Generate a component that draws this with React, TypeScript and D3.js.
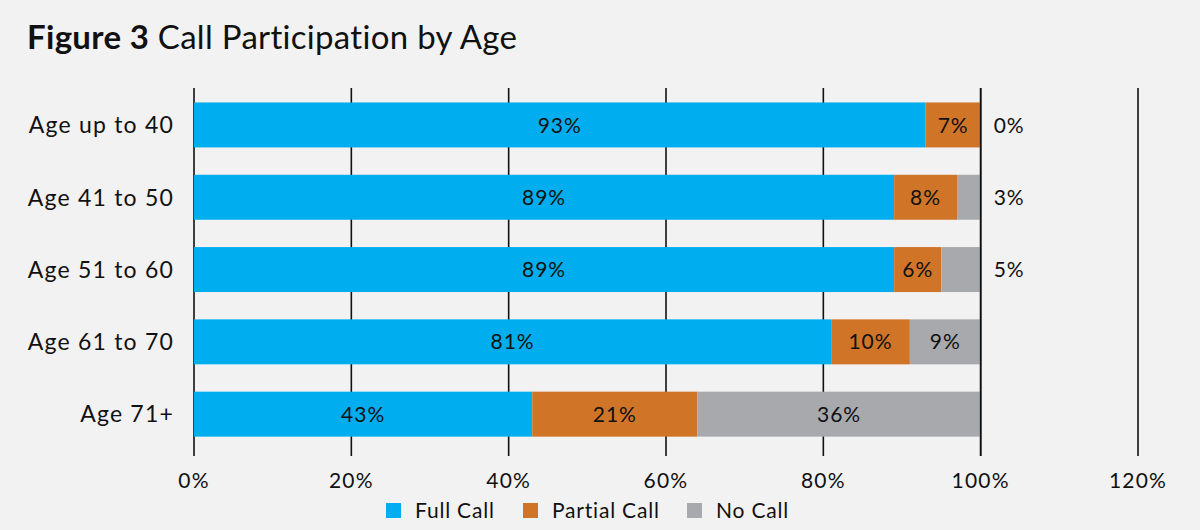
import { useEffect, useRef } from 'react';
import * as d3 from 'd3';

// chart data
const categories = ['Age up to 40', 'Age 41 to 50', 'Age 51 to 60', 'Age 61 to 70', 'Age 71+'];
const fullCall = [93, 89, 89, 81, 43];
const partialCall = [7, 8, 6, 10, 21];
const noCall = [0, 3, 5, 9, 36];
const seriesNames = ['Full Call', 'Partial Call', 'No Call'];
const seriesColors = ['#00aeef', '#d07428', '#a7a9ac'];
const xTicks = [0, 20, 40, 60, 80, 100, 120];

const FONT = 'Lato, "Open Sans", sans-serif';

const App = () => {
  const svgRef = useRef<SVGSVGElement>(null);

  useEffect(() => {
    if (!svgRef.current) return;
    const svg = d3.select(svgRef.current);
    svg.selectAll('*').remove();

    const width = 1200;
    const height = 530;

    svg.append('rect').attr('width', width).attr('height', height).attr('fill', '#f2f2f2');

    // title
    const title = svg.append('text')
      .attr('x', 27)
      .attr('y', 49)
      .attr('font-family', FONT)
      .attr('font-size', 33)
      .attr('letter-spacing', 0.3)
      .attr('fill', '#111');
    title.append('tspan').attr('font-weight', 700).text('Figure 3');
    title.append('tspan').text(' Call Participation by Age');

    const x = d3.scaleLinear().domain([0, 120]).range([194, 1138]);
    const y = d3.scaleBand<string>()
      .domain(categories)
      .range([88.8, 450.3])
      .paddingInner(0.378)
      .paddingOuter(0.189);

    // gridlines
    svg.append('g')
      .selectAll('line')
      .data(xTicks)
      .enter()
      .append('line')
      .attr('x1', d => x(d))
      .attr('x2', d => x(d))
      .attr('y1', 88)
      .attr('y2', 456)
      .attr('stroke', '#111')
      .attr('stroke-width', 1.6);

    // stacked bars
    const rows = categories.map((c, i) => ({ cat: c, values: [fullCall[i], partialCall[i], noCall[i]] }));
    const segs: { cat: string; k: number; x0: number; x1: number; v: number }[] = [];
    rows.forEach(r => {
      let acc = 0;
      r.values.forEach((v, k) => {
        segs.push({ cat: r.cat, k, x0: acc, x1: acc + v, v });
        acc += v;
      });
    });

    svg.append('g')
      .selectAll('rect')
      .data(segs.filter(s => s.v > 0))
      .enter()
      .append('rect')
      .attr('x', d => x(d.x0))
      .attr('y', d => y(d.cat)!)
      .attr('width', d => x(d.x1) - x(d.x0))
      .attr('height', y.bandwidth())
      .attr('fill', d => seriesColors[d.k]);

    // 100% line sits on top of the bar ends
    svg.append('line')
      .attr('x1', x(100)).attr('x2', x(100))
      .attr('y1', 88).attr('y2', 456)
      .attr('stroke', '#111').attr('stroke-width', 1.6);

    // value labels, small ones pushed outside the bar
    svg.append('g')
      .selectAll('text')
      .data(segs)
      .enter()
      .append('text')
      .attr('x', d => (d.v < 6 ? x(100) + 13 : x((d.x0 + d.x1) / 2)))
      .attr('y', d => y(d.cat)! + y.bandwidth() / 2)
      .attr('dy', '0.36em')
      .attr('text-anchor', d => (d.v < 6 ? 'start' : 'middle'))
      .attr('font-family', FONT)
      .attr('font-size', 21)
      .attr('letter-spacing', 1)
      .attr('fill', '#111')
      .text(d => `${d.v}%`);

    // category labels
    svg.append('g')
      .selectAll('text')
      .data(categories)
      .enter()
      .append('text')
      .attr('x', 174)
      .attr('y', d => y(d)! + y.bandwidth() / 2)
      .attr('dy', '0.36em')
      .attr('text-anchor', 'end')
      .attr('font-family', FONT)
      .attr('font-size', 23)
      .attr('letter-spacing', 1.2)
      .attr('fill', '#111')
      .text(d => d);

    // x tick labels
    svg.append('g')
      .selectAll('text')
      .data(xTicks)
      .enter()
      .append('text')
      .attr('x', d => x(d))
      .attr('y', 488)
      .attr('text-anchor', 'middle')
      .attr('font-family', FONT)
      .attr('font-size', 21)
      .attr('letter-spacing', 1.2)
      .attr('fill', '#111')
      .text(d => `${d}%`);

    // legend
    const legendX = [386, 523, 687];
    const legend = svg.append('g')
      .selectAll('g')
      .data(seriesNames)
      .enter()
      .append('g')
      .attr('transform', (d, i) => `translate(${legendX[i]}, 503)`);
    legend.append('rect')
      .attr('width', 15)
      .attr('height', 15)
      .attr('fill', (d, i) => seriesColors[i]);
    legend.append('text')
      .attr('x', 29)
      .attr('y', 14.5)
      .attr('font-family', FONT)
      .attr('font-size', 21)
      .attr('letter-spacing', 0.8)
      .attr('fill', '#111')
      .text(d => d);
  }, []);

  return (
    <div style={{ position: 'absolute', left: 0, top: 0 }}>
      <svg ref={svgRef} width={1200} height={530} viewBox="0 0 1200 530" style={{ display: 'block' }} />
    </div>
  );
};

export default App;
